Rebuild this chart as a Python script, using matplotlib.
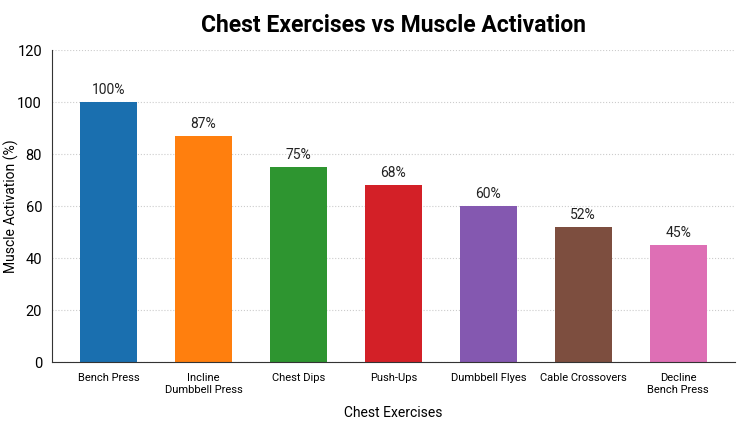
import matplotlib
matplotlib.use("Agg")
import matplotlib.pyplot as plt

exercises = ["Bench Press", "Incline\nDumbbell Press", "Chest Dips", "Push-Ups",
             "Dumbbell Flyes", "Cable Crossovers", "Decline\nBench Press"]
activation = [100, 87, 75, 68, 60, 52, 45]
colors = ["#1a6faf", "#ff7f0e", "#2e9530", "#d32027", "#8458b0", "#7d4e3f", "#de6fb5"]

plt.rcParams['font.family'] = ['Roboto', 'DejaVu Sans']

fig = plt.figure(figsize=(7.5, 4.22), dpi=100)
ax = fig.add_axes([0.069, 0.142, 0.911, 0.739])

x = range(len(exercises))
bars = ax.bar(x, activation, width=0.6, color=colors, zorder=2)
for b, v in zip(bars, activation):
    ax.text(b.get_x() + b.get_width() / 2, v + 2, f"{v}%", ha='center', va='bottom',
            fontsize=10, color='#222222')

ax.set_xticks(list(x))
ax.set_xticklabels(exercises, fontsize=8)
ax.set_xlim(-0.6, 6.6)
ax.set_ylim(0, 120)
ax.set_yticks(range(0, 121, 20))
ax.tick_params(axis='y', labelsize=10.5, length=0, pad=7)
ax.tick_params(axis='x', length=0, pad=8)
ax.grid(axis='y', linestyle=':', color='#cccccc', linewidth=0.8, zorder=0)
for s in ['top', 'right']:
    ax.spines[s].set_visible(False)
ax.spines['left'].set_color('#333333')
ax.spines['bottom'].set_color('#333333')

ax.set_xlabel("Chest Exercises", fontsize=10, labelpad=8)
ax.set_ylabel("Muscle Activation (%)", fontsize=10)
ax.yaxis.set_label_coords(-0.048, 0.5)
ax.set_title("Chest Exercises vs Muscle Activation", fontsize=16.5, fontweight='bold', pad=13)

fig.savefig("out.png", dpi=100)
